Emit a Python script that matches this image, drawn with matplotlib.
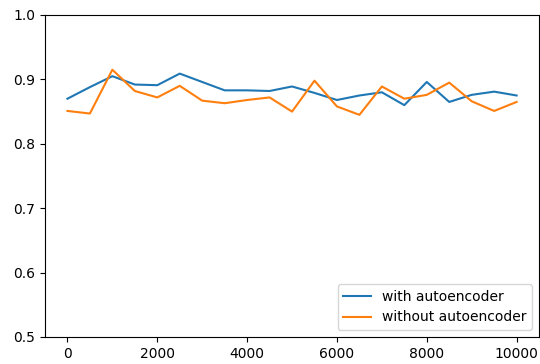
import numpy as np
import matplotlib.pyplot as plt

# training steps and accuracy for both runs
steps = np.arange(0, 10001, 500)
acc_with_ae = [0.870, 0.888, 0.905, 0.892, 0.891, 0.909, 0.896, 0.883, 0.883, 0.882,
               0.889, 0.879, 0.868, 0.875, 0.880, 0.860, 0.896, 0.865, 0.876, 0.881, 0.875]
acc_without_ae = [0.851, 0.847, 0.915, 0.882, 0.872, 0.890, 0.867, 0.863, 0.868, 0.872,
                  0.850, 0.898, 0.858, 0.845, 0.889, 0.870, 0.876, 0.895, 0.866, 0.851, 0.865]

fig = plt.figure(figsize=(5.4, 3.64), dpi=100)
ax = fig.add_axes([0.0833, 0.0742, 0.915, 0.8846])

ax.plot(steps, acc_with_ae, label="with autoencoder")
ax.plot(steps, acc_without_ae, label="without autoencoder")
ax.set_ylim(0.5, 1.0)
ax.legend(loc="lower right")

plt.savefig("out.png", dpi=100)
